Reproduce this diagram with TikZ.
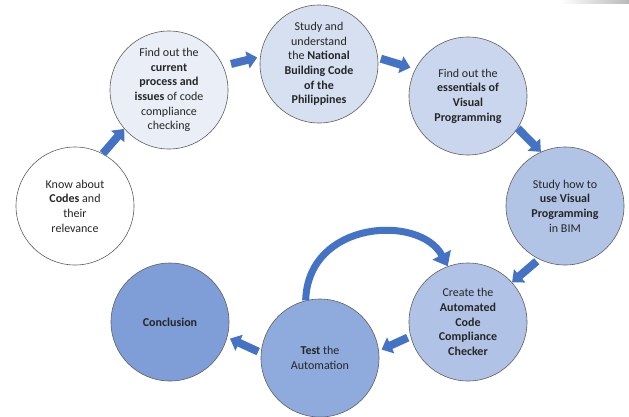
\documentclass[tikz,border=0pt]{standalone}
\usepackage{fontspec}
\setmainfont{Carlito}
\usetikzlibrary{arrows.meta}

\definecolor{ringline}{HTML}{5F5F5F}
\definecolor{flowblue}{HTML}{4472C4}
\definecolor{fillA}{HTML}{FFFFFF}
\definecolor{fillB}{HTML}{E9EEF7}
\definecolor{fillC}{HTML}{D6E0F0}
\definecolor{fillD}{HTML}{C9D6ED}
\definecolor{fillE}{HTML}{B1C4E6}
\definecolor{fillF}{HTML}{B0C3E6}
\definecolor{fillG}{HTML}{8FAADC}
\definecolor{fillH}{HTML}{7F9DD7}

\begin{document}
\begin{tikzpicture}[x=1pt, y=-1pt,
    stage/.style={draw=ringline, line width=0.6pt, circle, minimum size=118pt,
      inner sep=0pt, align=center, text=black!85,
      font=\fontsize{12}{14.6}\selectfont},
    flow/.style={draw=flowblue, line width=8pt,
      -{Triangle[length=10pt, width=17pt]}}]
  \useasboundingbox (0,0) rectangle (629,416);
  % Stray grey edge at the top right
  \shade[left color=white, right color=gray!55] (560,0) rectangle (629,3);
  % Stages, clockwise from the left
  \node[stage, fill=fillA] (codes) at (75,206)
    {Know about\\\textbf{Codes} and\\their\\relevance};
  \node[stage, fill=fillB] (current) at (169,90)
    {Find out the\\\textbf{current}\\\textbf{process and}\\\textbf{issues} of code\\compliance\\checking};
  \node[stage, fill=fillC] (nbcp) at (319,64)
    {Study and\\understand\\the \textbf{National}\\\textbf{Building Code}\\\textbf{of the}\\\textbf{Philippines}};
  \node[stage, fill=fillD] (essentials) at (468,96)
    {Find out the\\\textbf{essentials of}\\\textbf{Visual}\\\textbf{Programming}};
  \node[stage, fill=fillE] (bim) at (565,206)
    {Study how to\\\textbf{use Visual}\\\textbf{Programming}\\in BIM};
  \node[stage, fill=fillF] (checker) at (468,322)
    {Create the\\\textbf{Automated}\\\textbf{Code}\\\textbf{Compliance}\\\textbf{Checker}};
  \node[stage, fill=fillG] (test) at (320,358)
    {\textbf{Test} the\\Automation};
  \node[stage, fill=fillH] (conclusion) at (170,322)
    {\textbf{Conclusion}};
  % Block arrows between stages
  \draw[flow] (codes.62) -- (current.221);
  \draw[flow, shorten <=8pt, shorten >=3pt] (current.24) -- (nbcp.173);
  \draw[flow, shorten <=3pt, shorten >=5pt] (nbcp.6) -- (essentials.153);
  \draw[flow] (essentials.-33) -- (bim.114);
  \draw[flow, shorten <=3pt] (bim.244) -- (checker.42);
  \draw[flow, shorten <=3pt, shorten >=3pt] (checker.194) -- (test.7);
  \draw[flow, shorten <=3pt, shorten >=3pt] (test.175) -- (conclusion.-15);
  % Loop back from testing to the checker
  \draw[draw=flowblue, line width=7pt, -{Triangle[length=13pt, width=20pt]}]
    (test.104) .. controls (308,220) and (420,214) .. (checker.110);
\end{tikzpicture}
\end{document}
